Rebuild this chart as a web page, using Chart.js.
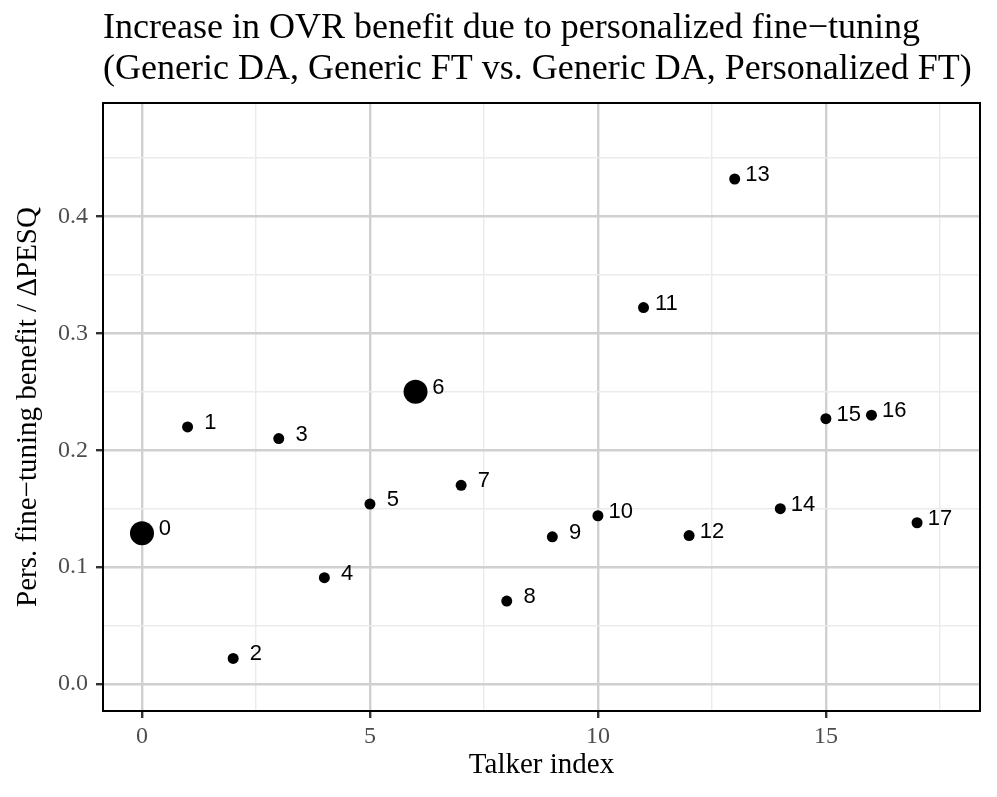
<!DOCTYPE html>
<html>
<head>
<meta charset="utf-8">
<script src="https://cdn.jsdelivr.net/npm/chart.js@4.4.1/dist/chart.umd.min.js"></script>
<style>
  html, body { margin: 0; padding: 0; background: #fff; }
  #wrap { width: 997px; height: 797px; }
</style>
</head>
<body>
<div id="wrap"><canvas id="myChart"></canvas></div>
<script>
// talker index and the personalized fine-tuning benefit (delta PESQ)
const talkers = [0, 1, 2, 3, 4, 5, 6, 7, 8, 9, 10, 11, 12, 13, 14, 15, 16, 17];
const benefit = [0.129, 0.220, 0.022, 0.210, 0.091, 0.154, 0.250, 0.170, 0.071,
                 0.126, 0.144, 0.322, 0.127, 0.432, 0.150, 0.227, 0.230, 0.138];
const highlighted = [0, 6];

const titleLines = [
    "Increase in OVR benefit due to personalized fine\u2212tuning",
    "(Generic DA, Generic FT vs. Generic DA, Personalized FT)"
];
const xTitle = "Talker index";
const yTitle = "Pers. fine\u2212tuning benefit / \u0394PESQ";

const serif = "'Liberation Serif', 'DejaVu Serif', serif";
const sans = "'Liberation Sans', Arial, sans-serif";

const points = talkers.map((t, i) => ({x: t, y: benefit[i]}));

function isMajor(v, step) {
    const r = v / step;
    return Math.abs(r - Math.round(r)) < 1e-6;
}

// title above the panel + black panel border + point labels
const extras = {
    id: 'extras',
    afterDatasetsDraw(chart) {
        const c = chart.ctx;
        const area = chart.chartArea;
        const xs = chart.scales.x, ys = chart.scales.y;

        c.save();
        c.fillStyle = '#000';
        c.font = '22px ' + sans;
        c.textAlign = 'center';
        c.textBaseline = 'alphabetic';
        points.forEach(p => {
            const px = xs.getPixelForValue(p.x + 0.5);
            const py = ys.getPixelForValue(p.y);
            c.fillText(String(p.x), px, py + 2);
        });

        c.strokeStyle = '#000';
        c.lineWidth = 2;
        c.strokeRect(area.left, area.top, area.right - area.left, area.bottom - area.top);

        c.font = '36px ' + serif;
        c.textAlign = 'left';
        c.fillText(titleLines[0], area.left, 38);
        c.fillText(titleLines[1], area.left, 79);
        c.restore();
    }
};

const ctx = document.getElementById('myChart').getContext('2d');
const myChart = new Chart(ctx, {
    type: 'scatter',
    data: {
        datasets: [{
            data: points,
            backgroundColor: '#000',
            borderColor: '#000',
            borderWidth: 0,
            pointRadius: talkers.map(t => highlighted.includes(t) ? 12 : 5.5),
            pointHoverRadius: talkers.map(t => highlighted.includes(t) ? 12 : 5.5)
        }]
    },
    plugins: [extras],
    options: {
        responsive: true,
        maintainAspectRatio: false,
        animation: false,
        layout: {
            padding: {top: 103, right: 17, bottom: 0, left: 0}
        },
        plugins: {
            legend: {display: false},
            tooltip: {enabled: false}
        },
        scales: {
            x: {
                type: 'linear',
                min: -0.855,
                max: 18.38,
                afterFit: s => { s.height = 86; },
                border: {display: false},
                ticks: {
                    stepSize: 2.5,
                    includeBounds: false,
                    autoSkip: false,
                    maxRotation: 0,
                    padding: 4,
                    color: '#4d4d4d',
                    font: {family: serif, size: 24},
                    callback: v => isMajor(v, 5) ? String(v) : ''
                },
                grid: {
                    color: c => isMajor(c.tick.value, 5) ? '#d0d0d0' : '#ebebeb',
                    lineWidth: c => isMajor(c.tick.value, 5) ? 2.4 : 1.4,
                    tickColor: c => isMajor(c.tick.value, 5) ? '#333' : 'rgba(0,0,0,0)',
                    tickWidth: 2.4,
                    tickLength: 7
                },
                title: {
                    display: true,
                    text: xTitle,
                    color: '#000',
                    font: {family: serif, size: 29},
                    padding: {top: 0, bottom: 14}
                }
            },
            y: {
                type: 'linear',
                min: -0.023,
                max: 0.497,
                afterFit: s => { s.width = 103; },
                border: {display: false},
                ticks: {
                    stepSize: 0.05,
                    includeBounds: false,
                    autoSkip: false,
                    padding: 8,
                    color: '#4d4d4d',
                    font: {family: serif, size: 24},
                    callback: v => isMajor(v, 0.1) ? v.toFixed(1) : ''
                },
                grid: {
                    color: c => isMajor(c.tick.value, 0.1) ? '#d0d0d0' : '#ebebeb',
                    lineWidth: c => isMajor(c.tick.value, 0.1) ? 2.4 : 1.4,
                    tickColor: c => isMajor(c.tick.value, 0.1) ? '#333' : 'rgba(0,0,0,0)',
                    tickWidth: 2.4,
                    tickLength: 7
                },
                title: {
                    display: true,
                    text: yTitle,
                    color: '#000',
                    font: {family: serif, size: 29},
                    padding: {top: 11, bottom: 0}
                }
            }
        }
    }
});
</script>
</body>
</html>
